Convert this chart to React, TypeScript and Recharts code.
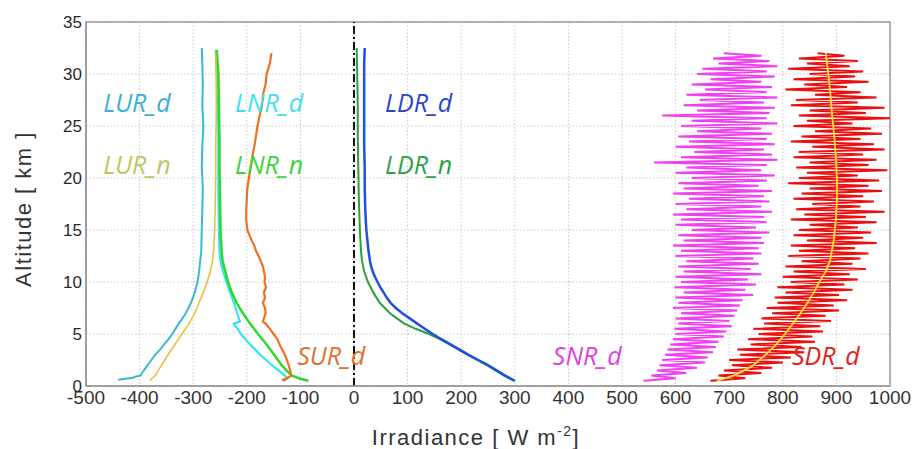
import React from 'react';
import {
  LineChart,
  Line,
  XAxis,
  YAxis,
  CartesianGrid,
  ReferenceLine,
  ReferenceArea,
  ReferenceDot,
} from 'recharts';

// each profile is [altitude km, irradiance W m-2]
const lurD: [number, number][] = [
  [32.5, -284], [31, -283], [29, -282], [27, -283], [25, -281], [23, -283], [21, -284], [19, -282],
  [17, -283], [15, -284], [13, -285], [12, -287], [11, -289], [10, -292], [9, -297], [8, -304],
  [7, -314], [6.5, -320], [6, -327], [5.5, -333], [5, -339], [4.5, -346], [4, -354], [3.5, -362],
  [3, -371], [2.5, -378], [2, -385], [1.5, -392], [1.2, -396], [1.0, -398], [0.9, -408], [0.8, -412],
  [0.6, -440],
];

const lurN: [number, number][] = [
  [32, -258], [29, -257], [26, -257], [23, -258], [20, -258], [17, -259], [15, -260], [13, -262],
  [12, -264], [11, -268], [10, -274], [9, -281], [8, -289], [7, -297], [6, -308], [5, -321],
  [4, -334], [3, -347], [2, -359], [1, -371], [0.5, -381],
];

const lnrD: [number, number][] = [
  [32.3, -258], [30, -256], [27, -254], [24, -253], [21, -253], [18, -253], [15, -252], [13, -251],
  [12, -249], [11, -244], [10, -238], [9, -231], [8, -224], [7, -218], [6.2, -213], [6.0, -224],
  [5.8, -222], [5.5, -217], [5, -211], [4.5, -203], [4, -194], [3.5, -184], [3, -175], [2.5, -164],
  [2, -153], [1.5, -141], [1, -129], [0.7, -124], [0.5, -132],
];

const lnrN: [number, number][] = [
  [32.3, -256], [30, -253], [27, -252], [24, -251], [21, -251], [18, -250], [15, -249], [13, -247],
  [12, -245], [11, -240], [10, -235], [9, -228], [8, -219], [7, -207], [6, -194], [5, -179],
  [4, -163], [3, -149], [2, -135], [1.5, -126], [1, -116], [0.7, -100], [0.5, -85],
];

const surD: [number, number][] = [
  [32, -154], [31, -157], [30, -163], [29, -165], [28, -170], [27, -172], [26, -176], [25, -180],
  [24, -183], [23, -186], [22, -190], [21, -193], [20, -196], [19, -199], [18, -200], [17, -201],
  [16, -201], [15, -199], [14.5, -195], [14, -191], [13.5, -186], [13, -183], [12.5, -178], [12, -174],
  [11.5, -170], [11, -168], [10.5, -166], [10, -167], [9.5, -164], [9, -168], [8.5, -166], [8, -170],
  [7.5, -166], [7, -165], [6.5, -168], [6.2, -170], [6, -165], [5.5, -157], [5, -150], [4.5, -143],
  [4, -139], [3.5, -134], [3, -129], [2.5, -125], [2, -122], [1.5, -119], [1, -117], [0.8, -124],
  [0.6, -132], [0.5, -128],
];

const ldrD: [number, number][] = [
  [32.5, 20], [31, 19], [29, 19], [27, 19], [25, 19], [23, 19], [21, 20], [19, 20],
  [17, 21], [15, 23], [14, 25], [13, 27], [12, 30], [11.5, 32], [11, 35], [10.5, 39],
  [10, 44], [9.5, 49], [9, 55], [8.5, 61], [8, 68], [7.5, 78], [7, 90], [6.5, 104],
  [6, 118], [5.5, 132], [5, 147], [4.5, 163], [4, 180], [3.5, 197], [3, 214], [2.5, 232],
  [2, 250], [1.5, 266], [1, 282], [0.5, 300],
];

const ldrN: [number, number][] = [
  [32.5, 5], [30, 6], [27, 7], [24, 7], [21, 8], [18, 9], [15, 11], [13, 13],
  [12, 15], [11, 19], [10, 26], [9, 36], [8, 48], [7, 67], [6.5, 80], [6, 94],
  [5.5, 115], [5, 140], [4.5, 160], [4, 178], [3, 212], [2, 248], [1, 280], [0.5, 299],
];

// shared altitude grid of the two noisy shortwave profiles
const noisyAlt = [
  32, 31.75, 31.5, 31.25, 31, 30.75, 30.5, 30.25, 30, 29.75, 29.5, 29.25, 29, 28.75, 28.5, 28.25,
  28, 27.75, 27.5, 27.25, 27, 26.75, 26.5, 26.25, 26, 25.75, 25.5, 25.25, 25, 24.75, 24.5, 24.25,
  24, 23.75, 23.5, 23.25, 23, 22.75, 22.5, 22.25, 22, 21.75, 21.5, 21.25, 21, 20.75, 20.5, 20.25,
  20, 19.75, 19.5, 19.25, 19, 18.75, 18.5, 18.25, 18, 17.75, 17.5, 17.25, 17, 16.75, 16.5, 16.25,
  16, 15.75, 15.5, 15.25, 15, 14.75, 14.5, 14.25, 14, 13.75, 13.5, 13.25, 13, 12.75, 12.5, 12.25,
  12, 11.75, 11.5, 11.25, 11, 10.75, 10.5, 10.25, 10, 9.75, 9.5, 9.25, 9, 8.75, 8.5, 8.25,
  8, 7.75, 7.5, 7.25, 7, 6.75, 6.5, 6.25, 6, 5.75, 5.5, 5.25, 5, 4.75, 4.5, 4.25,
  4, 3.75, 3.5, 3.25, 3, 2.75, 2.5, 2.25, 2, 1.75, 1.5, 1.25, 1, 0.75, 0.5,
];

const sdrD = [
  865, 915, 830, 940, 845, 925, 810, 950, 850, 935, 820, 960, 840, 920, 805, 945,
  860, 975, 825, 940, 815, 990, 850, 955, 830, 1000, 845, 930, 820, 965, 860, 985,
  835, 945, 815, 970, 855, 990, 830, 950, 820, 975, 850, 960, 825, 995, 845, 940,
  830, 980, 810, 960, 850, 985, 835, 950, 820, 970, 855, 945, 825, 990, 840, 955,
  815, 975, 850, 940, 830, 965, 820, 950, 845, 975, 815, 935, 830, 960, 810, 945,
  835, 930, 805, 955, 820, 925, 800, 940, 815, 915, 790, 930, 805, 905, 785, 920,
  790, 895, 770, 905, 780, 880, 760, 890, 765, 870, 745, 875, 755, 855, 735, 860,
  740, 835, 715, 840, 720, 815, 700, 800, 705, 780, 690, 760, 680, 730, 665,
];

const snrD = [
  690, 760, 670, 775, 680, 790, 650, 770, 640, 785, 665, 760, 630, 780, 655, 770,
  620, 790, 645, 765, 615, 785, 640, 775, 575, 770, 630, 790, 610, 760, 640, 780,
  605, 770, 625, 785, 600, 765, 635, 780, 610, 790, 560, 770, 620, 760, 600, 785,
  630, 770, 605, 755, 615, 780, 595, 765, 625, 775, 600, 760, 620, 780, 595, 765,
  610, 770, 600, 750, 630, 775, 605, 760, 615, 765, 595, 755, 610, 760, 600, 745,
  620, 755, 605, 740, 615, 760, 600, 735, 610, 750, 598, 730, 615, 745, 600, 725,
  605, 720, 595, 715, 610, 710, 600, 700, 605, 705, 598, 695, 600, 690, 595, 680,
  590, 675, 585, 670, 580, 660, 575, 655, 570, 640, 565, 620, 555, 600, 540,
];

const sdrMean: [number, number][] = [
  [32, 880], [30, 885], [28, 889], [26, 892], [24, 896], [22, 899], [20, 901], [18, 901],
  [16, 899], [14, 895], [12, 888], [11, 880], [10, 868], [9, 858], [8, 846], [7, 833],
  [6, 819], [5, 804], [4, 788], [3, 768], [2, 745], [1.5, 728], [1, 708], [0.5, 677],
];

const xTicks = [-500, -400, -300, -200, -100, 0, 100, 200, 300, 400, 500, 600, 700, 800, 900, 1000];
const yTicks = [0, 5, 10, 15, 20, 25, 30, 35];

// name, anchor (irradiance, altitude) and colour of the in-plot labels
const seriesLabels: { text: string; x: number; y: number; color: string }[] = [
  { text: 'LUR_d', x: -468, y: 26.3, color: '#3aaed8' },
  { text: 'LNR_d', x: -222, y: 26.3, color: '#44def0' },
  { text: 'LUR_n', x: -468, y: 20.4, color: '#c4c460' },
  { text: 'LNR_n', x: -222, y: 20.4, color: '#3ed43e' },
  { text: 'LDR_d', x: 58, y: 26.3, color: '#2a44d0' },
  { text: 'LDR_n', x: 58, y: 20.4, color: '#2ea048' },
  { text: 'SUR_d', x: -106, y: 2.0, color: '#e07030' },
  { text: 'SNR_d', x: 371, y: 2.0, color: '#e040e0' },
  { text: 'SDR_d', x: 817, y: 2.0, color: '#e02020' },
];

const toPts = (p: [number, number][]) => p.map(([alt, v]) => ({ x: v, y: alt }));
const zipPts = (vals: number[]) => vals.map((v, i) => ({ x: v, y: noisyAlt[i] }));

const narrowFont = '"Liberation Sans Narrow", "Arial Narrow", "Liberation Sans", Arial, sans-serif';
const sansFont = '"Liberation Sans", Arial, Helvetica, sans-serif';

const SeriesLabel = (props: any) => {
  const { viewBox, text, color } = props;
  if (!viewBox) return null;
  return (
    <text
      x={viewBox.x}
      y={viewBox.y}
      fill={color}
      fontSize={25}
      fontStyle="italic"
      fontFamily='"Open Sans", "Noto Sans", sans-serif'
      textAnchor="start"
    >
      {text}
    </text>
  );
};

export default function App() {
  return (
    <div style={{ position: 'absolute', left: 0, top: 0, width: 914, height: 449, background: '#fff' }}>
      <LineChart width={914} height={449} margin={{ top: 22, right: 24, left: 0, bottom: 0 }}>
        <CartesianGrid stroke="#c8c8c8" strokeDasharray="1.5 2" />
        <XAxis
          type="number"
          dataKey="x"
          domain={[-500, 1000]}
          ticks={xTicks}
          allowDataOverflow
          height={63}
          tickLine={false}
          tickSize={0}
          tickMargin={5}
          axisLine={{ stroke: '#9a9a9a', strokeWidth: 1.5 }}
          tick={{ fontSize: 19, fill: '#333', fontFamily: narrowFont }}
          interval={0}
          label={{
            content: () => (
              <text x={476} y={445} textAnchor="middle" fontSize={22} letterSpacing={1.5} fill="#333" fontFamily={sansFont}>
                Irradiance [ W m
                <tspan dy={-9} fontSize={14}>-2</tspan>
                <tspan dy={9}>]</tspan>
              </text>
            ),
          }}
        />
        <YAxis
          type="number"
          dataKey="y"
          domain={[0, 35]}
          ticks={yTicks}
          allowDataOverflow
          width={86}
          tickLine={false}
          tickSize={0}
          tickMargin={4}
          axisLine={{ stroke: '#9a9a9a', strokeWidth: 1.5 }}
          tick={{ fontSize: 17, fill: '#2a2a2a', fontFamily: sansFont }}
          interval={0}
          label={{
            content: () => (
              <text
                x={31}
                y={209}
                transform="rotate(-90 31 209)"
                textAnchor="middle"
                fontSize={22}
                letterSpacing={1.5}
                fill="#333"
                fontFamily={sansFont}
              >
                Altitude [ km ]
              </text>
            ),
          }}
        />
        <ReferenceArea x1={-500} x2={1000} y1={0} y2={35} fill="none" stroke="#9a9a9a" strokeWidth={1.5} />
        <ReferenceLine x={0} stroke="#111" strokeWidth={2} strokeDasharray="8 3 2 3" />

        <Line data={zipPts(snrD)} dataKey="y" stroke="#f040f0" strokeWidth={2} dot={false} isAnimationActive={false} />
        <Line data={zipPts(sdrD)} dataKey="y" stroke="#ea1010" strokeWidth={2} dot={false} isAnimationActive={false} />
        <Line data={toPts(sdrMean)} dataKey="y" stroke="#f5e030" strokeWidth={1.8} dot={false} isAnimationActive={false} />

        <Line data={toPts(ldrN)} dataKey="y" stroke="#2e9e3e" strokeWidth={2} dot={false} isAnimationActive={false} />
        <Line data={toPts(ldrD)} dataKey="y" stroke="#2050dc" strokeWidth={2.5} dot={false} isAnimationActive={false} />

        <Line data={toPts(lurD)} dataKey="y" stroke="#3cb8d0" strokeWidth={2} dot={false} isAnimationActive={false} />
        <Line data={toPts(lnrD)} dataKey="y" stroke="#30e6f2" strokeWidth={2.2} dot={false} isAnimationActive={false} />
        <Line data={toPts(lnrN)} dataKey="y" stroke="#2fd82f" strokeWidth={2.5} dot={false} isAnimationActive={false} />
        <Line data={toPts(lurN)} dataKey="y" stroke="#e8c040" strokeWidth={1.6} dot={false} isAnimationActive={false} />
        <Line data={toPts(surD)} dataKey="y" stroke="#f07020" strokeWidth={2.2} dot={false} isAnimationActive={false} />

        {seriesLabels.map((l) => (
          <ReferenceDot
            key={l.text}
            x={l.x}
            y={l.y}
            r={0}
            fill="none"
            stroke="none"
            label={<SeriesLabel text={l.text} color={l.color} />}
          />
        ))}
      </LineChart>
    </div>
  );
}
